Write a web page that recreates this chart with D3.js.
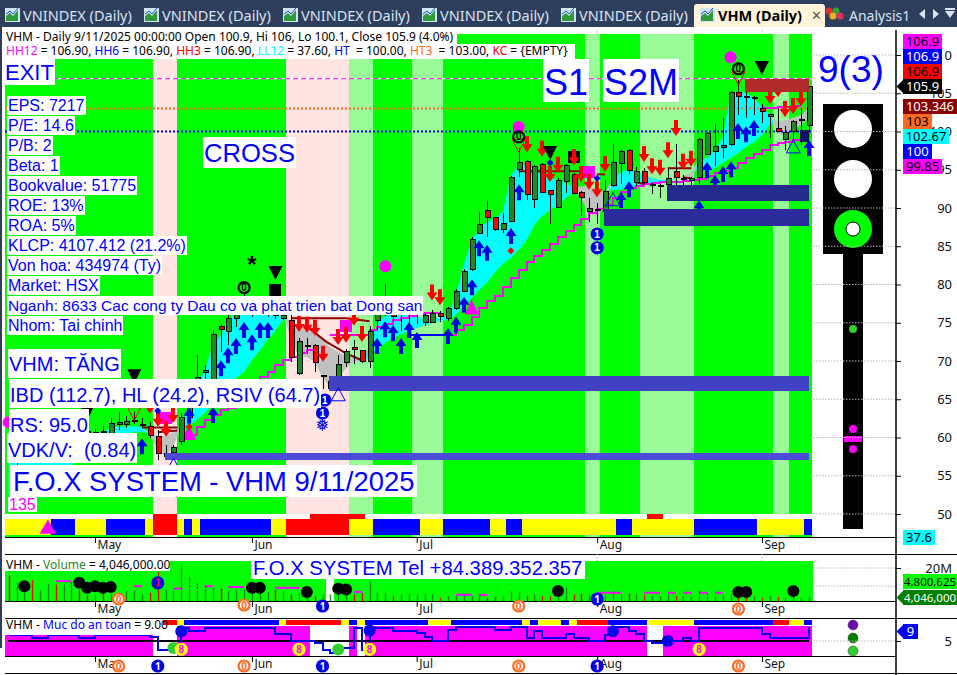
<!DOCTYPE html>
<html><head><meta charset="utf-8">
<script src="https://cdn.jsdelivr.net/npm/d3@7/dist/d3.min.js"></script>
<style>
html,body{margin:0;padding:0;background:#fff;overflow:hidden}
svg{display:block}
text{font-family:"Liberation Sans",Arial,sans-serif}
.ui text,text.ui{font-family:"Noto Sans",sans-serif}
</style></head><body>
<div id="chart"></div>
<script>
// ---------- DATA ----------
const tabTitles=["VNINDEX (Daily)","VNINDEX (Daily)","VNINDEX (Daily)","VNINDEX (Daily)","VNINDEX (Daily)"];
const monthNames=["May","Jun","Jul","Aug","Sep"];
const monthIdx=[11,31,52,75,96];
const priceTicks=[50,55,60,65,70,75,80,85,90,95,100,105,110];
const opens=[57.9,57,57.4,57.9,57.1,58,58.3,58.1,58.8,59.5,60.9,60.07,60.85,59.68,61.8,61.8,62.2,61.8,61.5,60.2,57.6,58.1,59.55,62.7,65.6,68.6,66.9,74.6,73.9,75.6,76.5,76.5,76.8,76.4,76.3,75.6,75.4,68.4,72.1,72.1,68.1,66.5,67.9,69.9,71.8,71.4,70,75.4,76.4,76.15,77,76.8,76.4,75.1,75.1,76.3,75.6,76.9,79.15,82,86.7,89.75,88.8,87.3,88.3,95.1,96.15,91.2,95.75,92.35,90.15,93.5,94.45,92.1,89.6,89.85,89.6,93,95.9,97.6,93.4,94.85,93.15,93,93.15,94.85,93.9,93.7,94.05,97.05,97.45,98,98.4,105.15,104.65,104.5,103.1,102,100.45,99,100.1,101.5,100.9];
const highs=[58.5,57.8,58,58.2,58.3,58.6,58.9,59,59.7,60,61.2,61.12,61.5,62.6,63.3,62.8,63.3,62.6,62,61,59,59,63.2,65,70.8,69.5,74,74.8,76.7,78,79,78.2,78,77.6,76.6,76.3,76,73,73,72.2,68.2,67.4,70.8,71.6,72.7,71.4,74.6,77.3,80.1,77.45,78,78,77.5,76.3,76.7,76.6,77,79.4,82,86.2,89.5,90.9,88.8,89.35,94.2,97.85,96.3,95.6,95.9,92.4,93.9,95.8,94.6,92.2,91.3,90.65,93.65,98.4,97.6,97.7,95.4,95.2,93.3,93.1,95.2,98.4,94.3,94.1,99.1,99.9,101,101.8,105.3,106.75,105.8,104.6,103.6,102.3,103.1,100.7,101.5,103.1,106];
const lows=[57,56.4,56.8,56.9,56.8,57.4,57.8,57.9,58.5,59,60,59.55,60.2,59.4,61,61.2,61.8,61.2,60,57.1,57.1,57.7,59,62.3,65,67.5,66.2,71.2,72.1,74.5,76,75.8,76,75.8,75.5,75.4,69.9,68.2,71.1,68.6,66.35,66.4,67.3,69.2,69.6,69.8,69.1,74.05,75.9,75.2,73.9,75,74.85,74.6,75,75.1,75.2,76.7,79,81.8,86.7,86.2,87,86.7,88.2,94.05,91.05,90,91.9,87.9,90,91.95,91.8,89,88.2,87.9,88.4,92.8,93.15,94.45,92.9,93.2,91.8,91.3,91.6,92.35,92.2,92.35,93.15,96.9,95.5,96.55,98.1,102.15,101.8,102.15,101.1,99.15,100,97.6,98.75,98.25,100.1];
const closes=[57.6,57.4,57.8,57.2,58,58.3,58.1,58.8,59.4,59.2,60.4,60.73,60.8,61.91,62,62.2,62.3,61.8,60.3,58,58,58.8,62.7,64.5,67.9,68.8,73.5,74.2,75.6,76.3,77,77.5,77.4,77,76,76,70.5,72.6,72.1,69.9,68.2,67.4,69.6,71.3,71.6,70,73.9,76.3,77.7,75.9,77.1,77,76.6,76,76.3,75.9,76.9,79.15,81.8,85.95,87.9,88.8,87.3,88.05,94.05,96,91.8,95.5,92.1,91.8,93.65,95.6,91.95,91.45,90,89.9,92.2,96,97.45,95,94.85,93.4,93.2,93,93.9,94.05,93.95,93.9,99,99.8,98.1,98.25,105.15,104.65,104.6,104.5,102.7,102.3,100.1,99.95,101.4,101.65,105.9];
const ribbonFast=[56.8,57.1,57.3,57.6,57.9,58.1,58.4,58.8,59.2,59.6,59.9,60.5,60.7,61.3,61.4,61.4,61.5,61.3,60.3,58.4,57.5,58.9,61.4,64.3,66.9,68.8,72.1,73.4,75.4,76.4,77.3,78,78.2,78,76.9,76,72.8,70.5,70.5,69.9,67.8,66.5,67.8,69.1,69.9,70,72.1,75.1,75.9,76.2,76.2,75.9,75.8,75.6,75.6,75.6,75.9,78.6,82.6,85.8,87.4,88.2,88.7,89.5,94.3,95.6,95.6,95,94.3,93.9,93.7,93.3,92.6,91,89.5,88.7,90.4,93.7,94.7,95,94.7,94.3,93.9,93.7,93.7,93.7,93.9,93.7,96.3,96.5,97.6,99.2,104.8,105.2,105,104.4,103.1,102.3,99.8,99.4,100.2,100.9,101.8];
const ribbonSlow=[52.1,52.6,53.1,53.7,54.2,54.7,55.2,55.8,56.4,57.1,57.6,59.7,59.9,60.2,60.5,60.6,60.7,60.7,60.6,60.2,60.2,60.7,61.3,61.6,62.3,63.2,64.3,65.6,66.9,67.8,68.6,70.1,71.4,72.8,74,75.4,75.1,74.7,74.3,73.8,72.8,71.8,71.2,70.7,70.4,70.1,70.3,71.5,72.4,73,73.5,73.9,74.3,74.7,75,75.2,75.4,76,77.2,78.2,79.3,80.3,81.6,82.7,83.5,84.5,85.8,87.8,89,89.7,90.4,91.3,92,92.8,92.8,92.4,92.1,92.4,92.4,92.8,92.9,93.1,93.3,93.4,93.5,93.7,94.2,94.7,95,94.7,95.2,95.9,96.5,97.2,98,98.6,99.5,100.9,101.2,101.5,101.8,102.2,103.1];
const trailIdx=[22,23,24,25,26,27,28,29,30,31,32,33,34,35,36,37,38,39];
const trailVal=[60.1,60.3,61.4,62.3,63,63.6,63.9,64.9,65.95,66.9,67.9,68.6,69.5,70.1,70.5,71,71.4,72.1];
const trailIdx2=[41,42,43,44,45,46,47,48,49,50,51,52,53,54,55];
const trailVal2=[73.4,73.4,73.4,73.4,73.4,74.1,74.5,74.8,75.4,75.6,75.9,76.2,76.3,76.3,76.3];
const trailIdx3=[56,57,58,59,60,61,62,63,64,65,66,67,68,69,70,71,72,73,74,75,76,77,78,79,80,81,82,83,84,85,86,87,88,89,90,91,92,93,94,95,96,97,98,99,100,101,102];
const trailVal3=[73.4,74.1,74.7,75.8,76.9,77.8,78.5,79.7,80.9,81.9,83,83.7,84.5,85.3,86.2,87,87.8,88.6,89.3,89.9,90.4,91.3,92.1,92.6,92.9,93.1,93.3,93.4,93.4,93.4,93.5,93.7,93.8,94.2,94.6,94.8,95.2,95.9,96.5,97,97.6,98.2,98.5,98.6,98.9,99.3,99.8];
const upperTrailIdx=[96,97,98,99,100,101];
const upperTrailVal=[103.1,103.1,103.2,103.2,103.3,103.3];
const stopLineIdx=[51,56];
const stopLineVal=[73.4,73.4];
const redArrowIdx=[18,19,20,21,37,38,39,40,42,43,44,45,54,55,66,68,69,70,72,73,74,75,76,81,82,83,84,85,86,87,97,98,99,100,101];
const redArrowVal=[63.1,61.4,60.1,61.9,73.8,73.7,73.3,69.9,72.1,72.4,74.6,72.5,77.9,77.3,97.3,96.7,93.4,94.6,95.6,93.4,92.4,91.4,94.7,96,94.4,94.2,96.5,99.4,95,95.4,103.6,104.5,101.9,102.3,103.3];
const blueArrowIdx=[17,23,26,27,28,29,30,31,32,33,47,48,49,50,51,52,56,57,58,59,60,61,64,65,78,79,88,89,90,91,92,93,94,95,102];
const blueArrowVal=[59.9,63.9,64,70.1,71.8,73,75.1,73.5,75.1,75.1,73,75.2,74.7,73,75.1,73.8,74.3,75.8,78.4,80.7,85.8,85.2,87.4,93.1,92.1,93.5,91,96,94.3,95.5,96.1,101.1,100.7,101.5,98.9];
const zoneStart=[0,19,22,36,44,47,52,56,74,76,81,88,98,100];
const zoneKind=["g","p","g","p","l","g","l","g","l","g","l","g","l","g"];
const stripStart=[0,6,9,13,18,19,22,23,24,25,34,36,44,47,53,56,62,64,66,78,80,88,96,102];
const stripKind=["y","b","y","b","y","r","y","b","y","b","y","r","y","b","y","b","y","b","y","b","y","b","y","b"];
const capStart=[19,39,82];
const capEnd=[22,46,84];
const supportStart=[20,41,76,84];
const supportTop=[58,68.05,89.9,93];
const supportBottom=[57,66.1,87.65,90.9];
const supportColor=["#4b4bd8","#4141c4","#2b2b9e","#222a8c"];
const resistStart=[94];
const resistTop=[106.9];
const resistBottom=[105.1];
const maroonFrom=[[36,75.6],[43,75.6],[38,74.5],[40.5,72.5],[43,71],[65,94.8],[75,94.4],[80,93.4],[84,95.2],[86,94],[17,61.3],[19,60.7]];
const maroonTo=[[43,75.6],[46,75.2],[40.5,72.5],[43,71],[45,70.1],[73,94.8],[76,94.4],[81,93.1],[87,95.2],[87,93.9],[21.5,61.3],[21.5,60.9]];
const magCircles=[[48,82.4],[65,100.6],[92,109.7],[0,62]];
const magSquares=[[43,74.6],[74,94.7],[20,62.6]];
const magTriangles=[[59,77],[23,60.6]];
const blackDownTri=[[34,81.5],[96,108.3],[69,97.2],[10,63.2],[16,68]];
const blackSquares=[[34,79.3],[72,96.7]];
const navySquares=[[101.4,99.4]];
const zeroRings=[[30,79.6],[65,99.3],[93,108.2]];
const redOutlineTri=[[16,63.9],[65,99],[93,107.8]];
const blueOutlineTri=[[100,98.9],[77,92],[42,66.5],[21,57.3]];
const blueDiamonds=[[69,95.9],[75,93.9],[19,63.5]];
const redDiamonds=[[64,84.4],[23,61.4]];
const blueOnes=[[75,86.6],[75,84.8],[40,63.2],[40.3,64.9]];
const volumes=[15.8,11,5.5,12.7,6.7,10.3,10,10,11.5,6.7,3.6,4,5,4.5,5,6,6.5,4,5,17.6,7,6,22,14.5,11,9,8,8,6,7,7,5,6,5.5,7,6,4,5,6,3,4,4,6,6,4,5,12,5,5,3,4,4.5,4,4.5,4,2,3,3,4,3,4,2,2.5,3,6,5,3,4,3,3,6,8,4,4.5,3.5,4,3.5,6,4.5,4.5,4,3.5,3,3,4,3,3,3.5,6,5,3,3.5,4,2,4,3,2,3,2.5,2,3,2,2.5];
const volMaStart=[6,16,21,25,28,34,44,57,60,75,81,84,86,88,90];
const volMaEnd=[8,17,22,26,30,37,45,59,61,78,83,85,87,89,91];
const volMaVal=[12,9,7.5,9,8.5,8,5.5,3.8,3.6,5,5,5,5,5,5];
const volDots=[[2,9],[9,11],[10,8],[11,9],[12,8],[13,8.5],[31,8],[32,8],[38,5.5],[42,7.5],[43,7],[70,6],[93,5.5],[94,5.5],[100,6]];
const safety=[6.7,6.7,6.7,5.9,5.9,6.7,6.7,6.7,6.7,5.9,5.9,6.7,6.7,6.7,6.7,6.7,6.7,6.7,6.1,2.4,2.4,2.4,8.7,7.9,7.9,8.7,8.7,8.7,8.7,8.7,8.7,8.7,8.7,8.7,7,7,5,5,5,4.4,2.4,1.6,3,3,8.7,2.4,8.7,8.7,8.7,7.9,7.9,7.9,7.3,6.1,5,5,8.1,9,9,9,9,9,8.1,8.1,9,9,5.9,7.9,5.9,5.9,5.9,7,5.9,5.9,5,5,6.7,9,9,7.9,7,5,4.4,4.4,5,5,5.9,5,8.7,8.7,8.7,8.7,8.7,8.7,8.7,8.7,7,5.9,5.9,5.9,5.9,5.9,9];
const safetyTopStart=[20,22,23,35,36,43,44,45,46,54,57,66,67,68,71,72,73,77,82,88,98,100,102];
const safetyTopKind=["r","y","b","y","r","y","b","y","b","y","b","y","b","y","b","y","r","b","y","b","r","y","b"];
const safetyFillStart=[0,22,44,46,84];
const safetyFillEnd=[19,39,45,82,103];
const safetyFillTop=[6.7,9.4,9.4,9.4,9.4];
const safetyBlueDots=[[22,7.8],[46,8],[77,7.8],[84,5]];
const safetyGreenDots=[[21,3],[42,2.6]];
const safetyEights=[[22,2.6],[37,2.6],[46,2.6],[88,2.6]];
const volZeros=[[14,0],[30,0],[65,0],[93,0]];
const volOnes=[[40,0],[75,0]];
const bottomZeros=[14,30,65,93];
const bottomOnes=[19,40,75];
const leftInfo=["EPS: 7217","P/E: 14.6","P/B: 2","Beta: 1","Bookvalue: 51775","ROE: 13%","ROA: 5%","KLCP: 4107.412 (21.2%)","Von hoa: 434974 (Ty)","Market: HSX","Nganh: 8633 Cac cong ty Dau co va phat trien bat Dong san","Nhom: Tai chinh"];
const priceTagTexts=["106.9","106.9","106.9","105.9","103.346","103","102.67","100","99.85"];
const priceTagFill=["#ff00ff","#0000ff","#ff0000","#000000","#8b0000","#ff6a1f","#00ffff","#0000ff","#ff00ff"];
const priceTagInk=["#000","#fff","#000","#fff","#fff","#000","#000","#fff","#000"];
const priceTagWidth=[39,39,39,39,54,29,46,29,39];

// ---------- SETUP ----------
const W=957,H=675,L=5,R=813,AX=896;
const svg=d3.select("#chart").append("svg").attr("width",W).attr("height",H).attr("viewBox",[0,0,W,H]);
const x=d3.scaleLinear().domain([0,102]).range([8.7,809]);
const y=d3.scaleLinear().domain([50,110]).range([514,55]);
const yVol=d3.scaleLinear().domain([0,20]).range([601,568]);
const ySafe=d3.scaleLinear().domain([5,9]).range([641,627]);
const N=opens.length;
const cEdge=i=>Math.max(L,Math.min(R,x(i-0.6)));
const GREEN="#00ff00",LIGHT="#98fb98",PINK="#ffe4e1";
const zoneColor={g:GREEN,l:LIGHT,p:PINK};
const stripColor={y:"#ffff00",b:"#0000ff",r:"#ff0000"};
const BLUE="#0000ff";
function rect(g,x0,y0,x1,y1,f){return g.append("rect").attr("x",x0).attr("y",y0).attr("width",x1-x0).attr("height",y1-y0).attr("fill",f).attr("shape-rendering","crispEdges");}

// ---------- FRAME + TABS ----------
const ui=svg.append("g").attr("class","ui");
rect(ui,0,0,W,27,"#2e3f5e");
rect(ui,0,27,W,3,"#fde9bd");
rect(ui,0,27,2,H-27,"#2e3f5e");
rect(ui,2,27,3,H-27,"#fff8e6");
rect(ui,955,27,2,H-27,"#fde9bd");
function icon(g,ix){
  rect(g,ix,8,ix+15,22,"#cfe3f5");
  g.append("path").attr("d",`M${ix+1} 21V16L${ix+5} 13L${ix+8} 16L${ix+13} 10V21Z`).attr("fill","#2f9a3a");
  g.append("path").attr("d",`M${ix+1} 14L${ix+5} 11L${ix+8} 14L${ix+13} 8`).attr("fill","none").attr("stroke","#2050c0");
}
tabTitles.forEach((t,k)=>{
  const ox=5+139*k;
  icon(ui,ox);
  ui.append("text").attr("x",ox+18).attr("y",21).attr("font-size",14.5).attr("fill","#d9e2ee").text(t);
});
ui.append("path").attr("d","M694 27V7Q694 4 697 4H822Q825 4 825 7V27Z").attr("fill","#fff4d9");
icon(ui,700);
ui.append("text").attr("x",718).attr("y",21).attr("font-size",14.5).attr("font-weight",700).attr("fill","#000").text("VHM (Daily)");
ui.append("text").attr("x",811).attr("y",20).attr("font-size",13).attr("fill","#555").text("✕");
[["#e03030",829,11],["#30a030",836,11],["#e8b020",833,16],["#e03060",840,16]].forEach(d=>ui.append("circle").attr("cx",d[1]).attr("cy",d[2]).attr("r",3.5).attr("fill",d[0]));
ui.append("text").attr("x",849).attr("y",21).attr("font-size",14).attr("fill","#d9e2ee").text("Analysis1");
ui.append("path").attr("d","M925 9V19L919 14Z M933 9L939 14L933 19Z M945 11H955L950 18Z").attr("fill","#d9e2ee");
rect(ui,945,8,955,9.5,"#d9e2ee");

// ---------- PRICE PANEL ----------
const main=svg.append("g");
zoneStart.forEach((s,k)=>{
  const e=k+1<zoneStart.length?zoneStart[k+1]:N;
  rect(main,cEdge(s),34,cEdge(e),514,zoneColor[zoneKind[k]]);
  rect(main,cEdge(s),535,cEdge(e),537,zoneColor[zoneKind[k]]);
});
// bottom condition strip
stripStart.forEach((s,k)=>{
  const e=k+1<stripStart.length?stripStart[k+1]:N;
  rect(main,cEdge(s),519,cEdge(e),535,stripColor[stripKind[k]]);
});
capStart.forEach((s,k)=>rect(main,cEdge(s),514,cEdge(capEnd[k]),519,"#ff0000"));
main.append("path").attr("d",d3.symbol(d3.symbolTriangle,120)()).attr("transform",`translate(${x(5)},529)`).attr("fill","#ff00ff");

// ribbon split between up (cyan) and down (gray) portions
const indices=d3.range(N);
const areaUp=d3.area().x(i=>x(i)).y0(i=>y(ribbonSlow[i])).y1(i=>y(Math.max(ribbonFast[i],ribbonSlow[i]))).curve(d3.curveLinear);
const areaDown=d3.area().x(i=>x(i)).y0(i=>y(ribbonFast[i])).y1(i=>y(Math.max(ribbonFast[i],ribbonSlow[i]))).curve(d3.curveLinear);
main.append("path").attr("d",areaUp(indices)).attr("fill","#00ffff");
main.append("path").attr("d",areaDown(indices)).attr("fill","#c0c0c0");

// horizontal level lines
const hl=main.append("g");
hl.append("line").attr("x1",L).attr("x2",R).attr("y1",y(106.9)).attr("y2",y(106.9)).attr("stroke","#fff").attr("stroke-width",1);
hl.append("line").attr("x1",L).attr("x2",R).attr("y1",y(106.9)).attr("y2",y(106.9)).attr("stroke","#ff00ff").attr("stroke-dasharray","5,3").attr("stroke-width",1);
hl.append("line").attr("x1",L).attr("x2",R).attr("y1",y(103)).attr("y2",y(103)).attr("stroke","#ff6a1f").attr("stroke-dasharray","2,2").attr("stroke-width",2);
hl.append("line").attr("x1",L).attr("x2",R).attr("y1",y(100)).attr("y2",y(100)).attr("stroke","#0000ff").attr("stroke-dasharray","2,2").attr("stroke-width",2);

// trailing lines
const stepLine=(ids,vals)=>d3.line().x((d,k)=>x(ids[k])).y(d=>y(d)).curve(d3.curveStepAfter)(vals);
[[trailIdx,trailVal],[trailIdx2,trailVal2],[trailIdx3,trailVal3],[upperTrailIdx,upperTrailVal]].forEach(p=>{
  main.append("path").attr("d",stepLine(p[0],p[1])).attr("fill","none").attr("stroke","#ff00ff").attr("stroke-width",2).attr("shape-rendering","crispEdges");
});
main.append("path").attr("d",stepLine(stopLineIdx,stopLineVal)).attr("fill","none").attr("stroke","#0000ff").attr("stroke-width",2);
// maroon signal lines
maroonFrom.forEach((a,k)=>{
  const b=maroonTo[k];
  main.append("line").attr("x1",x(a[0])).attr("y1",y(a[1])).attr("x2",x(b[0])).attr("y2",y(b[1])).attr("stroke","#8b0000").attr("stroke-width",2);
});

// small marks drawn under the candles
magSquares.forEach(d=>rect(main,x(d[0])-6,y(d[1])-6,x(d[0])+6,y(d[1])+6,"#ff00ff"));
magTriangles.forEach(d=>main.append("path").attr("d",`M${x(d[0])} ${y(d[1])-8}L${x(d[0])+7} ${y(d[1])+7}H${x(d[0])-7}Z`).attr("fill","#ff00ff"));

// candles
const cg=main.append("g");
indices.forEach(i=>{
  const o=opens[i],c=closes[i],up=c>=o,cx=Math.round(x(i))+0.5;
  cg.append("line").attr("x1",cx).attr("x2",cx).attr("y1",y(highs[i])).attr("y2",y(lows[i])).attr("stroke","#000").attr("shape-rendering","crispEdges");
  const top=Math.round(y(Math.max(o,c))),bot=Math.round(y(Math.min(o,c)));
  cg.append("rect").attr("x",cx-2.5).attr("y",top+0.5).attr("width",5).attr("height",Math.max(1,bot-top)).attr("fill",up?"#1f8a1f":"#ff0000").attr("stroke","#000").attr("shape-rendering","crispEdges");
});

// arrows
const arrowG=main.append("g");
function downArrow(i,v){const a=Math.round(x(i)),b=y(v);return `M${a} ${b}L${a-5.5} ${b-8}H${a-2}V${b-16}H${a+2}V${b-8}H${a+5.5}Z`;}
function upArrow(i,v){const a=Math.round(x(i)),b=y(v);return `M${a} ${b}L${a-5.5} ${b+8}H${a-2}V${b+16}H${a+2}V${b+8}H${a+5.5}Z`;}
blueArrowIdx.forEach((i,k)=>arrowG.append("path").attr("d",upArrow(i,blueArrowVal[k])).attr("fill","#0000e6"));
redArrowIdx.forEach((i,k)=>arrowG.append("path").attr("d",downArrow(i,redArrowVal[k])).attr("fill","#ff0000"));

// support / resistance boxes
supportStart.forEach((s,k)=>rect(main,x(s)-1,y(supportTop[k]),x(102),y(supportBottom[k]),supportColor[k]));
resistStart.forEach((s,k)=>rect(main,x(s)-1,y(resistTop[k]),x(102),y(resistBottom[k]),"#b22c2c"));

// signal markers
magCircles.forEach(d=>main.append("circle").attr("cx",x(d[0])).attr("cy",y(d[1])).attr("r",6).attr("fill","#ff00ff"));
blackDownTri.forEach(d=>main.append("path").attr("d",`M${x(d[0])-7} ${y(d[1])-7}H${x(d[0])+7}L${x(d[0])} ${y(d[1])+7}Z`).attr("fill","#000"));
blackSquares.forEach(d=>rect(main,x(d[0])-6,y(d[1])-6,x(d[0])+6,y(d[1])+6,"#000"));
navySquares.forEach(d=>rect(main,x(d[0])-4.5,y(d[1])-6,x(d[0])+4.5,y(d[1])+6,"#14145c"));
// redraw the arrow that sits above a black square
[[72,95.6]].forEach(d=>main.append("path").attr("d",downArrow(d[0],d[1])).attr("fill","#ff0000"));
redOutlineTri.forEach(d=>main.append("path").attr("d",`M${x(d[0])-6.5} ${y(d[1])}H${x(d[0])+6.5}L${x(d[0])} ${y(d[1])+13}Z`).attr("fill","none").attr("stroke","#ff0000").attr("stroke-width",1));
blueOutlineTri.forEach(d=>main.append("path").attr("d",`M${x(d[0])} ${y(d[1])}L${x(d[0])+7} ${y(d[1])+13}H${x(d[0])-7}Z`).attr("fill","none").attr("stroke","#0000ff").attr("stroke-width",1));
function diamond(d,c){main.append("path").attr("d",`M${x(d[0])} ${y(d[1])-3.5}L${x(d[0])+3.5} ${y(d[1])}L${x(d[0])} ${y(d[1])+3.5}L${x(d[0])-3.5} ${y(d[1])}Z`).attr("fill",c);}
blueDiamonds.forEach(d=>diamond(d,"#0000e6"));
redDiamonds.forEach(d=>diamond(d,"#ff0000"));
function badge(g,cx,cy,fill,stroke,ink,txt,r=5.5){
  g.append("circle").attr("cx",cx).attr("cy",cy).attr("r",r).attr("fill",fill).attr("stroke",stroke).attr("stroke-width",2.2);
  g.append("text").attr("x",cx).attr("y",cy+3.5).attr("text-anchor","middle").attr("font-size",10).attr("font-weight",700).attr("fill",ink).text(txt);
}
zeroRings.forEach(d=>badge(main,x(d[0]),y(d[1]),"none","#000","#000","0"));
blueOnes.forEach(d=>badge(main,x(d[0]),y(d[1]),"#0000e6","#0000e6","#fff","1"));
main.append("text").attr("x",x(40)).attr("y",y(61.6)+6).attr("text-anchor","middle").attr("font-size",17).attr("fill","#0000e6").style("font-family","DejaVu Sans").text("❅");
main.append("text").attr("x",x(31)).attr("y",y(83)+11).attr("text-anchor","middle").attr("font-size",24).attr("font-weight",700).attr("fill","#000").text("*");

// ---------- TEXT LABELS ----------
const labels=svg.append("g");
function label(txt,tx,base,size,opt={}){
  const g=labels.append("g");
  const r=g.append("rect").attr("fill","#fff").attr("shape-rendering","crispEdges");
  const t=g.append("text").attr("x",tx).attr("y",base).attr("font-size",size).attr("fill",opt.color||BLUE).attr("xml:space","preserve").style("white-space","pre").text(txt);
  const b=t.node().getBBox();
  const px=opt.px==null?1:opt.px, top=opt.top==null?b.y:opt.top, bot=opt.bot==null?b.y+b.height:opt.bot;
  r.attr("x",b.x-px).attr("y",top).attr("width",b.width+2*px+(opt.extra||0)).attr("height",bot-top);
}
label("EXIT",5,80,22,{top:59,bot:85,px:1});
leftInfo.forEach((t,k)=>{const c=105.5+20*k;label(t,8,c+5.5,t.length>40?15.5:16,{top:c-9.5,bot:c+9});});
label("CROSS",204,162,25.6,{top:137,bot:168});
label("S1",544,95,36,{top:59,bot:102,px:1});
label("S2M",604,95,36,{top:59,bot:102,px:1});
label("VHM: TĂNG",9,371,20,{top:349,bot:378});
label("IBD (112.7), HL (24.2), RSIV (64.7)",10,402,20,{top:379,bot:408});
label("RS: 95.0",10,432,20,{top:409,bot:433});
label("VDK/V:  (0.84)",8,457,20,{top:433,bot:463});
label("F.O.X SYSTEM - VHM 9/11/2025",13,491,27.4,{top:465,bot:497,px:3});
label("135",9,510,16,{color:"#ff00ff",top:497,bot:512});
svg.append("text").attr("x",818).attr("y",82).attr("font-size",37).attr("fill",BLUE).text("9(3)");

// header
rect(labels,5,34,457,44,"#fff");
rect(labels,5,44,575,59,"#fff");
const hFont="'Noto Sans',sans-serif";
labels.append("text").attr("x",6).attr("y",41).attr("font-size",12).style("font-family",hFont).attr("fill","#000").text("VHM - Daily 9/11/2025 00:00:00 Open 100.9, Hi 106, Lo 100.1, Close 105.9 (4.0%)");
const l2=labels.append("text").attr("x",6).attr("y",55).attr("font-size",12).style("font-family",hFont).style("white-space","pre").attr("fill","#000");
[["HH12","#ff00ff"],[" = 106.90, ","#000"],["HH6","#0000ff"],[" = 106.90, ","#000"],["HH3","#ff0000"],[" = 106.90, ","#000"],["LL12","#00ffff"],[" = 37.60, ","#000"],["HT ","#0000ff"],[" = 100.00, ","#000"],["HT3 ","#ff6a1f"],[" = 103.00, ","#000"],["KC","#ff0000"],[" = {EMPTY}","#000"]].forEach(p=>{
  l2.append("tspan").attr("fill",p[1]).text(p[0]);
});
// ---------- TRAFFIC LIGHT ----------
const tl=svg.append("g");
rect(tl,823,104,883,254,"#000");
rect(tl,843,254,863,529,"#000");
tl.append("circle").attr("cx",853).attr("cy",129).attr("r",19).attr("fill","#fff");
tl.append("circle").attr("cx",853).attr("cy",179).attr("r",19).attr("fill","#fff");
tl.append("circle").attr("cx",853).attr("cy",229).attr("r",19).attr("fill",GREEN);
tl.append("circle").attr("cx",853).attr("cy",229).attr("r",7).attr("fill","#fff").attr("stroke","#000");
tl.append("circle").attr("cx",853).attr("cy",329).attr("r",4).attr("fill","#32cd32");
tl.append("circle").attr("cx",853).attr("cy",429).attr("r",4).attr("fill","#ff00ff");
tl.append("circle").attr("cx",853).attr("cy",449).attr("r",4).attr("fill","#ff00ff");
rect(tl,844,436,862,442,"#ff00ff");

// ---------- VOLUME PANEL ----------
const vol=svg.append("g");
rect(vol,L,561,R,601,GREEN);
rect(vol,x(41)-4.6,579,x(41)+3.2,601,"#fff");
indices.forEach(i=>{
  const a=Math.round(x(i))+0.5;
  vol.append("line").attr("x1",a).attr("x2",a).attr("y1",yVol(0)).attr("y2",yVol(volumes[i])).attr("stroke",closes[i]>=opens[i]?"#1f8a1f":"#ff0000").attr("stroke-width",1.4);
});
volMaStart.forEach((s,k)=>vol.append("line").attr("x1",x(s)).attr("x2",x(volMaEnd[k])).attr("y1",yVol(volMaVal[k])).attr("y2",yVol(volMaVal[k])).attr("stroke","#ff00ff").attr("stroke-width",2));
volDots.forEach(d=>vol.append("circle").attr("cx",x(d[0])).attr("cy",yVol(d[1])).attr("r",6).attr("fill","#000"));
badge(vol,x(19),yVol(11),"#0000e6","#0000e6","#ff0000","1");
rect(vol,5,561,170,571,"#fff");
rect(vol,251,556,585,579,"#fff");
const tNote=vol.append("text").attr("x",6).attr("y",569).attr("font-size",12).style("font-family",hFont);
tNote.append("tspan").text("VHM - ");
tNote.append("tspan").attr("fill","#1f8a1f").text("Volume");
tNote.append("tspan").text(" = 4,046,000.00");
vol.append("text").attr("x",253).attr("y",575).attr("font-size",20.3).attr("fill",BLUE).text("F.O.X SYSTEM Tel +84.389.352.357");

// ---------- SAFETY PANEL ----------
const sf=svg.append("g");
safetyFillStart.forEach((s,k)=>rect(sf,cEdge(s),ySafe(safetyFillTop[k]),cEdge(safetyFillEnd[k]),656,"#ff00ff"));
safetyTopStart.forEach((s,k)=>{
  const e=k+1<safetyTopStart.length?safetyTopStart[k+1]:N;
  rect(sf,cEdge(s),620,cEdge(e),625,stripColor[safetyTopKind[k]]);
});
sf.append("line").attr("x1",8).attr("x2",809).attr("y1",ySafe(5)).attr("y2",ySafe(5)).attr("stroke","#000").attr("stroke-width",2);
sf.append("path").attr("d",d3.line().x((d,i)=>x(i)).y(d=>ySafe(d)).curve(d3.curveStepAfter)(safety)).attr("fill","none").attr("stroke","#0000e6").attr("stroke-width",2).attr("shape-rendering","crispEdges");
safetyBlueDots.forEach(d=>sf.append("circle").attr("cx",x(d[0])).attr("cy",ySafe(d[1])).attr("r",6).attr("fill","#0000e6"));
safetyGreenDots.forEach(d=>sf.append("circle").attr("cx",x(d[0])).attr("cy",ySafe(d[1])).attr("r",6).attr("fill","#32cd32"));
safetyEights.forEach(d=>badge(sf,x(d[0]),ySafe(d[1]),"#ffff00","#ffff00","#ff00ff","8"));
rect(sf,5,620,163,635,"#fff");
const sNote=sf.append("text").attr("x",6).attr("y",629).attr("font-size",12).style("font-family",hFont);
sNote.append("tspan").text("VHM - ");
sNote.append("tspan").attr("fill","#0000ff").text("Muc do an toan");
sNote.append("tspan").text(" = 9.00");
[["#6a0dad",625],["#008000",638],["#32cd32",651]].forEach(d=>sf.append("circle").attr("cx",853).attr("cy",d[1]).attr("r",5).attr("fill",d[0]).attr("stroke","#333").attr("stroke-width",0.5));

// ---------- AXES ----------
const axG=svg.append("g").attr("class","ui");
const monthAxis=d3.axisBottom(x).tickValues(monthIdx).tickSize(6).tickFormat((d,k)=>monthNames[k]);
[[537,549],[601,613],[656,668]].forEach(p=>{
  const g=axG.append("g").attr("transform",`translate(0,${p[0]})`).call(monthAxis);
  g.select(".domain").remove();
  g.selectAll("text").attr("text-anchor","start").attr("dx",2).attr("y",p[1]-p[0]-9).attr("font-size",12).attr("fill","#111").style("font-family","'Noto Sans',sans-serif");
});
[537,554,601,618,656,673].forEach(d=>axG.append("line").attr("x1",5).attr("x2",d===673||d===618||d===554?W:AX).attr("y1",d).attr("y2",d).attr("stroke","#000").attr("stroke-width",1).attr("shape-rendering","crispEdges"));
// month gridline stubs visible above the filled panels
monthIdx.slice(3).forEach(i=>{
  axG.append("line").attr("x1",x(i)).attr("x2",x(i)).attr("y1",30).attr("y2",34).attr("stroke","#b5b5b5").attr("stroke-dasharray","1.5,1.5");
  axG.append("line").attr("x1",x(i)).attr("x2",x(i)).attr("y1",554).attr("y2",561).attr("stroke","#b5b5b5").attr("stroke-dasharray","1.5,1.5");
});

priceTicks.forEach(v=>axG.append("line").attr("x1",R).attr("x2",AX).attr("y1",y(v)).attr("y2",y(v)).attr("stroke","#b5b5b5").attr("stroke-dasharray","1.5,1.5"));
[20,9].forEach(v=>axG.append("line").attr("x1",R).attr("x2",AX).attr("y1",yVol(v)).attr("y2",yVol(v)).attr("stroke","#b5b5b5").attr("stroke-dasharray","1.5,1.5"));
axG.append("line").attr("x1",R).attr("x2",AX).attr("y1",ySafe(5)).attr("y2",ySafe(5)).attr("stroke","#b5b5b5").attr("stroke-dasharray","1.5,1.5");

const rightAxis=d3.axisRight(y).tickValues(priceTicks).tickSize(5).tickFormat(d3.format("d"));
const ra=axG.append("g").attr("transform",`translate(${AX},0)`).call(rightAxis);
ra.select(".domain").remove();
ra.selectAll("text").attr("x",56).attr("text-anchor","end").attr("font-size",13).attr("fill","#111").style("font-family","'Noto Sans',sans-serif");
const volAxis=d3.axisRight(yVol).tickValues([20]).tickSize(5).tickFormat(d=>d+"M");
const va=axG.append("g").attr("transform",`translate(${AX},0)`).call(volAxis);
va.select(".domain").remove();
va.selectAll("text").attr("x",56).attr("text-anchor","end").attr("font-size",13).attr("fill","#111").style("font-family","'Noto Sans',sans-serif");
const sAxis=d3.axisRight(ySafe).tickValues([5]).tickSize(5).tickFormat(d3.format("d"));
const sa=axG.append("g").attr("transform",`translate(${AX},0)`).call(sAxis);
sa.select(".domain").remove();
sa.selectAll("text").attr("x",56).attr("text-anchor","end").attr("font-size",13).attr("fill","#111").style("font-family","'Noto Sans',sans-serif");
axG.append("line").attr("x1",AX).attr("x2",AX).attr("y1",30).attr("y2",H).attr("stroke","#000").attr("stroke-width",1.5);

// ---------- VALUE TAGS ----------
const tagG=svg.append("g").attr("class","ui");
function tag(txt,top,w,fill,ink,pointer,fs=13){
  rect(tagG,903,top,903+w,top+15,fill);
  if(pointer)tagG.append("path").attr("d",`M896.5 ${top+7.5}L903 ${top+1}V${top+14}Z`).attr("fill",fill);
  tagG.append("text").attr("x",903+w/2).attr("y",top+12).attr("text-anchor","middle").attr("font-size",fs).attr("fill",ink).text(txt);
}
priceTagTexts.forEach((t,k)=>{
  const top=k<4?34+15*k:99+15*(k-4);
  tag(t,top,priceTagWidth[k],priceTagFill[k],priceTagInk[k],k===3);
});
tag("37.6",530,32,"#00ffff","#000");
tag("4,800,625",574,54,"#00ff00","#000",false,11.5);
tag("4,046,000",590,54,"#008000","#fff",true,11.5);
tag("9",624,15,"#0000ff","#fff",true);
volZeros.forEach(d=>badge(tagG,x(d[0]),d[0]===14?599:d[0]===30?605:d[0]===65?606:609,"#fff","#ff6a1f","#ff6a1f","0"));
volOnes.forEach(d=>badge(tagG,x(d[0]),d[0]===40?606:599,"#0000e6","#0000e6","#fff","1"));
bottomZeros.forEach(i=>badge(tagG,x(i),666,"#fff","#ff6a1f","#ff6a1f","0"));
bottomOnes.forEach(i=>badge(tagG,x(i),666,"#0000e6","#0000e6","#fff","1"));
</script>
</body></html>
